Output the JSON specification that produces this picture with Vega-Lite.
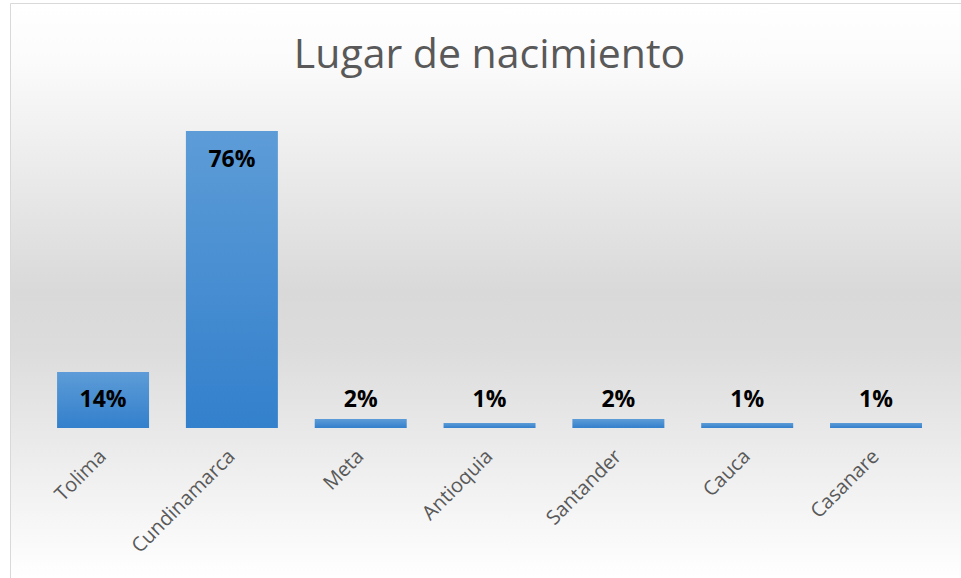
{
  "$schema": "https://vega.github.io/schema/vega-lite/v6.json",
  "autosize": "none",
  "width": 951,
  "height": 575,
  "padding": {"left": 10, "top": 3, "right": 0, "bottom": 0},
  "background": "#ffffff",
  "config": {
    "view": {
      "stroke": "#d9d9d9",
      "strokeWidth": 1,
      "fill": {
        "gradient": "linear",
        "x1": 0, "y1": 0, "x2": 0, "y2": 1,
        "stops": [
          {"offset": 0, "color": "#ffffff"},
          {"offset": 0.1, "color": "#fbfbfb"},
          {"offset": 0.5, "color": "#d9d9d9"},
          {"offset": 0.6, "color": "#dcdcdc"},
          {"offset": 1, "color": "#ffffff"}
        ]
      }
    },
    "font": "Open Sans"
  },
  "datasets": {
    "titulo": [{"texto": "Lugar de nacimiento", "lugar": "Antioquia"}]
  },
  "data": {
    "values": [
      {"lugar": "Tolima", "valor": 0.143},
      {"lugar": "Cundinamarca", "valor": 0.76},
      {"lugar": "Meta", "valor": 0.023},
      {"lugar": "Antioquia", "valor": 0.013},
      {"lugar": "Santander", "valor": 0.023},
      {"lugar": "Cauca", "valor": 0.013},
      {"lugar": "Casanare", "valor": 0.013}
    ]
  },
  "encoding": {
    "x": {
      "field": "lugar",
      "type": "nominal",
      "sort": null,
      "scale": {"paddingInner": 0.286, "paddingOuter": 0.334, "align": 0.547},
      "axis": {
        "orient": "bottom",
        "offset": -150,
        "domain": false,
        "ticks": false,
        "grid": false,
        "title": null,
        "labelAngle": -45,
        "labelAlign": "right",
        "labelBaseline": "middle",
        "labelPadding": 25,
        "labelFont": "Open Sans",
        "labelFontSize": 20,
        "labelColor": "#595959"
      }
    }
  },
  "layer": [
    {
      "mark": {
        "type": "bar",
        "color": {
          "gradient": "linear",
          "x1": 0, "y1": 0, "x2": 0, "y2": 1,
          "stops": [
            {"offset": 0, "color": "#5d9cd7"},
            {"offset": 1, "color": "#3380cc"}
          ]
        }
      },
      "encoding": {
        "y": {
          "field": "valor",
          "type": "quantitative",
          "scale": {"domain": [-0.3838, 1.0875], "nice": false, "zero": false},
          "axis": null
        },
        "y2": {"datum": 0}
      }
    },
    {
      "transform": [{"filter": "datum.valor >= 0.5"}],
      "mark": {"type": "text", "fontWeight": "bold", "fontSize": 23, "font": "Open Sans", "color": "#000000", "baseline": "middle", "dy": 29},
      "encoding": {
        "y": {"field": "valor", "type": "quantitative"},
        "text": {"field": "valor", "type": "quantitative", "format": ".0%"}
      }
    },
    {
      "transform": [{"filter": "datum.valor < 0.5"}],
      "mark": {"type": "text", "fontWeight": "bold", "fontSize": 23, "font": "Open Sans", "color": "#000000", "baseline": "middle", "dy": -28},
      "encoding": {
        "y": {"datum": 0, "type": "quantitative"},
        "text": {"field": "valor", "type": "quantitative", "format": ".0%"}
      }
    },
    {
      "data": {"name": "titulo"},
      "mark": {"type": "text", "font": "Open Sans", "fontSize": 41, "color": "#595959", "align": "center", "baseline": "alphabetic"},
      "encoding": {
        "x": {"field": "lugar", "type": "nominal"},
        "y": {"datum": 0.921, "type": "quantitative"},
        "text": {"field": "texto"}
      }
    }
  ]
}
